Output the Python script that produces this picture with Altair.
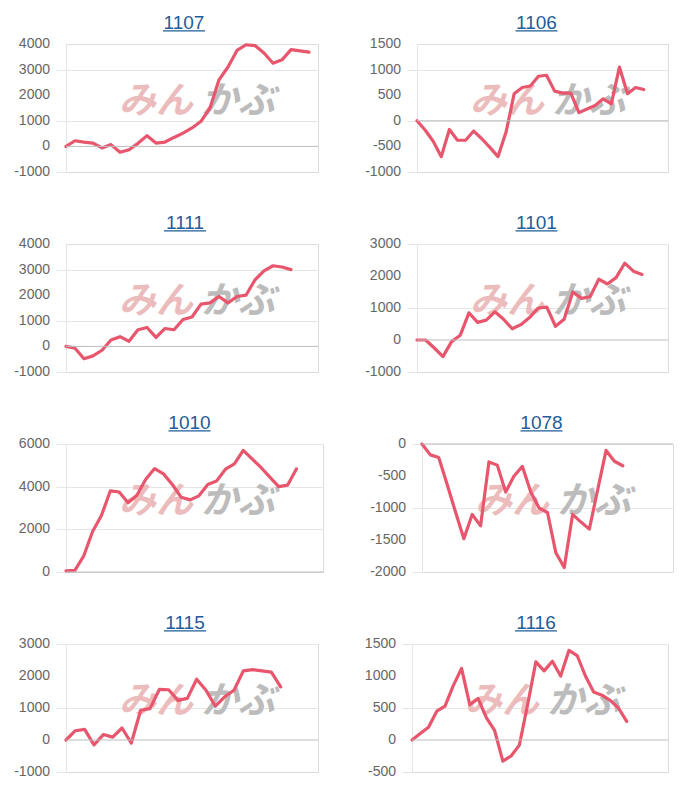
import altair as alt
import pandas as pd

# ---- data ----
codes = ["1107", "1106", "1111", "1101", "1010", "1078", "1115", "1116"]

v1107 = [0, 220, 170, 130, -60, 70, -230, -130, 120, 420, 130, 170, 350, 520,
         720, 980, 1500, 2600, 3100, 3750, 3970, 3940, 3650, 3250, 3380, 3780,
         3730, 3680]
v1106 = [0, -180, -400, -700, -170, -380, -380, -200, -350, -520, -700, -220,
         530, 650, 680, 870, 890, 580, 540, 540, 160, 230, 300, 430, 330, 1050,
         530, 650, 610]
v1111 = [0, -70, -480, -370, -150, 250, 380, 200, 650, 740, 350, 700, 650, 1050,
         1150, 1650, 1700, 1950, 1700, 1950, 2000, 2600, 2950, 3150, 3100, 3000]
v1101 = [0, 0, -250, -520, -50, 150, 850, 550, 620, 880, 650, 350, 480, 700,
         1000, 1030, 430, 650, 1500, 1300, 1350, 1900, 1750, 1950, 2400, 2150,
         2050]
v1010 = [50, 80, 750, 1900, 2650, 3800, 3750, 3250, 3600, 4350, 4850, 4600, 4100,
         3500, 3380, 3570, 4100, 4270, 4820, 5070, 5700, 5300, 4900, 4450, 4000,
         4070, 4830]
v1078 = [0, -170, -210, -630, -1060, -1480, -1100, -1280, -280, -330, -750, -500,
         -350, -750, -1000, -1070, -1700, -1930, -1100, -1220, -1330, -715, -100,
         -270, -340]
v1115 = [0, 290, 330, -150, 170, 90, 375, -95, 930, 980, 1580, 1570, 1240, 1300,
         1900, 1555, 1055, 1350, 1555, 2160, 2200, 2160, 2120, 1660]
v1116 = [0, 100, 200, 450, 530, 850, 1120, 550, 650, 350, 150, -330, -250, -80,
         550, 1220, 1080, 1230, 1000, 1400, 1320, 1000, 750, 700, 620, 500, 290]

ticks_1107 = [-1000, 0, 1000, 2000, 3000, 4000]
ticks_1106 = [-1000, -500, 0, 500, 1000, 1500]
ticks_1111 = [-1000, 0, 1000, 2000, 3000, 4000]
ticks_1101 = [-1000, 0, 1000, 2000, 3000]
ticks_1010 = [0, 2000, 4000, 6000]
ticks_1078 = [-2000, -1500, -1000, -500, 0]
ticks_1115 = [-1000, 0, 1000, 2000, 3000]
ticks_1116 = [-500, 0, 500, 1000, 1500]

# number of x slots on each panel's horizontal axis
slots = {"1107": 28, "1106": 31, "1111": 28, "1101": 29,
         "1010": 29, "1078": 30, "1115": 27, "1116": 31}

series = {"1107": v1107, "1106": v1106, "1111": v1111, "1101": v1101,
          "1010": v1010, "1078": v1078, "1115": v1115, "1116": v1116}
ticks = {"1107": ticks_1107, "1106": ticks_1106, "1111": ticks_1111,
         "1101": ticks_1101, "1010": ticks_1010, "1078": ticks_1078,
         "1115": ticks_1115, "1116": ticks_1116}

# ---- style ----
RED = "#e8566e"
BLUE = "#1f5c99"
GRID = "#e6e6e6"
ZERO = "#bdbdbd"
FONT = "Liberation Sans"
H = 128

widths = {"1107": 252, "1106": 251, "1111": 252, "1101": 251,
          "1010": 257, "1078": 251, "1115": 252, "1116": 256}
title_dx = {"1107": -8, "1106": -6, "1111": -7, "1101": -6,
            "1010": -5, "1078": -6, "1115": -7, "1116": -4}


def panel(code):
    vals = series[code]
    tk = ticks[code]
    w = widths[code]
    dx = title_dx[code]
    df = pd.DataFrame({"i": list(range(len(vals))), "v": vals})
    tdf = pd.DataFrame({"v": tk, "s": [str(t) for t in tk]})
    one = pd.DataFrame({"k": [0]})

    x = alt.X("i:Q",
              scale=alt.Scale(domain=[0, slots[code]], nice=False, zero=False),
              axis=alt.Axis(labels=False, ticks=False, grid=False, domain=True,
                            domainColor="#dadada", title=None))
    y = alt.Y("v:Q",
              scale=alt.Scale(domain=[tk[0], tk[-1]], nice=False, zero=False),
              axis=alt.Axis(values=tk, title=None, grid=True, gridColor=GRID,
                            domain=True, domainColor=GRID, ticks=True,
                            tickColor=GRID, tickSize=10, labels=False))

    wm1 = alt.Chart(one).mark_text(
        text="みん", font="Noto Sans CJK JP", fontSize=37, fontWeight="bold",
        fontStyle="italic", color="#ecbcbc", align="center", baseline="middle"
    ).encode(x=alt.value(90), y=alt.value(58))
    wm2 = alt.Chart(one).mark_text(
        text="かぶ", font="Noto Sans CJK JP", fontSize=37, fontWeight="bold",
        fontStyle="italic", color="#bcbcbc", align="center", baseline="middle"
    ).encode(x=alt.value(172), y=alt.value(58))

    zero = alt.Chart(one).mark_rule(color=ZERO, strokeWidth=1).encode(
        y=alt.datum(0))
    line = alt.Chart(df).mark_line(
        color=RED, strokeWidth=3.2, strokeJoin="round", strokeCap="round"
    ).encode(x=x, y=y)

    labels = alt.Chart(tdf).mark_text(
        font=FONT, fontSize=14, color="#666666", align="right",
        baseline="middle"
    ).encode(x=alt.value(-16), y=alt.Y("v:Q"), text="s:N")

    cx = w / 2 + dx
    title = alt.Chart(one).mark_text(
        text=code, font=FONT, fontSize=19, color=BLUE, align="center",
        baseline="alphabetic"
    ).encode(x=alt.value(cx), y=alt.value(-15.5))
    underline = alt.Chart(one).mark_rule(color=BLUE, strokeWidth=1.2).encode(
        x=alt.value(cx - 21), x2=alt.value(cx + 21), y=alt.value(-13.2))

    return alt.layer(wm1, wm2, line, zero, labels, title, underline).properties(
        width=w, height=H)


rows = []
for r in range(4):
    a, b = codes[2 * r], codes[2 * r + 1]
    rows.append(alt.hconcat(panel(a), panel(b), spacing=45))

chart = (
    alt.vconcat(*rows, spacing=33)
    .configure_view(stroke=None)
    .configure(background="white")
)

chart.save("out.html", embed_options={"renderer": "svg", "actions": False})
